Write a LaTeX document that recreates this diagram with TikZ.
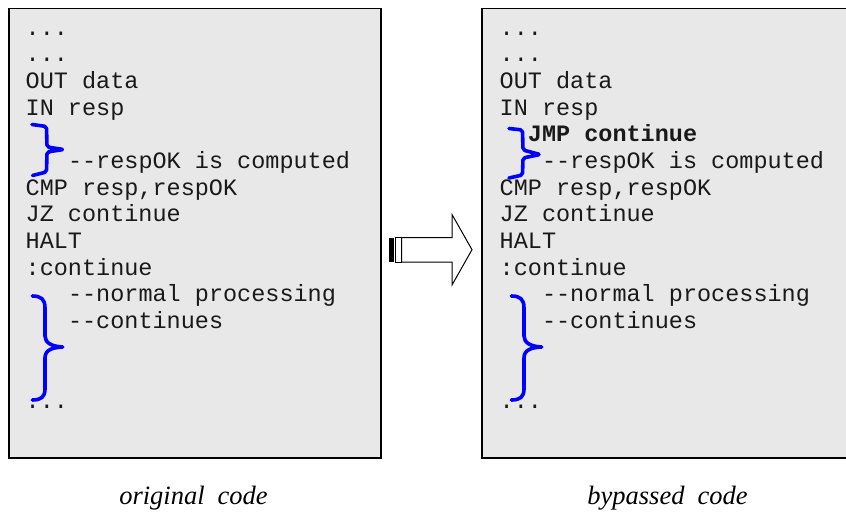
\documentclass[tikz,border=0pt]{standalone}
\usepackage{fontspec}
\setmainfont{Liberation Serif}
\setmonofont{Liberation Mono}
\definecolor{boxgray}{RGB}{232,232,232}
\definecolor{bracblue}{RGB}{0,0,255}
\begin{document}
\begin{tikzpicture}[x=1pt,y=-1pt,
  codebox/.style={draw=black,line width=1.4pt,fill=boxgray},
  code/.style={anchor=base west,inner sep=0pt,font=\fontsize{23.5}{26}\selectfont\ttfamily,text=black!90},
  capt/.style={anchor=base,inner sep=0pt,font=\fontsize{26.5}{30}\selectfont\itshape},
  brac/.style={draw=bracblue,line width=3.6pt,line cap=round,line join=round}]
\useasboundingbox (0,0) rectangle (846,514);
% boxes
\path[codebox] (9,8.7) rectangle (381,458);
\path[codebox] (482,8.7) rectangle (850,458);
% left code
\def\cw{14.1}
\foreach \nm/\col/\ln/\txt in {
  la/0/0/{...}, lb/0/1/{...}, lc/0/2/{OUT data}, ld/0/3/{IN resp},
  le/3/5/{--respOK is computed}, lf/0/6/{CMP resp,respOK}, lg/0/7/{JZ continue},
  lh/0/8/{HALT}, li/0/9/{:continue}, lj/3/10/{--normal processing},
  lk/3/11/{--continues}, ll/0/14/{...}}
  \node[code] (\nm) at ({25.5+\col*\cw},{35+\ln*26.67}) {\txt};
\foreach \nm/\col/\ln/\txt in {
  ra/0/0/{...}, rb/0/1/{...}, rc/0/2/{OUT data}, rd/0/3/{IN resp},
  re/3/5/{--respOK is computed}, rf/0/6/{CMP resp,respOK}, rg/0/7/{JZ continue},
  rh/0/8/{HALT}, ri/0/9/{:continue}, rj/3/10/{--normal processing},
  rk/3/11/{--continues}, rl/0/14/{...}}
  \node[code] (\nm) at ({499.5+\col*\cw},{35+\ln*26.67}) {\txt};
\node[code,font=\fontsize{23.5}{26}\selectfont\ttfamily\bfseries] (rjmp) at ({499.5+2*\cw},{35+4*26.67}) {JMP continue};
% braces left
\draw[brac,rounded corners=2pt] (32,124.5) -- (46.5,126.5) -- (47,147) -- (63.5,149.5) -- (47,152) -- (46.5,172) -- (32.5,175.5);
\draw[brac] (32.3,296) .. controls (41,296) and (45,299) .. (45,308) -- (45,336)
  .. controls (45,343) and (52,346.5) .. (62.7,347)
  .. controls (52,347.5) and (45,350) .. (45,358) -- (45,389)
  .. controls (45,397) and (41,400) .. (32.3,400);
% braces right
\draw[brac,rounded corners=2pt] (509,128.5) -- (522.5,130) -- (523,150) -- (540,154.5) -- (523,158) -- (522.5,175) -- (509,178);
\begin{scope}[xshift=479pt]
\draw[brac] (32.3,296) .. controls (41,296) and (45,299) .. (45,308) -- (45,336)
  .. controls (45,343) and (52,346.5) .. (62.7,347)
  .. controls (52,347.5) and (45,350) .. (45,358) -- (45,389)
  .. controls (45,397) and (41,400) .. (32.3,400);
\end{scope}
% striped arrow
\fill[black] (389,237.5) rectangle (393.5,262);
\draw[black,line width=1pt,fill=white] (395.5,237.5) rectangle (401.5,262);
\draw[black,line width=1pt,fill=white,line join=miter] (401.5,237.5) -- (452,237.5) -- (452,214.5) -- (472,249.7) -- (452,285) -- (452,262) -- (401.5,262) -- cycle;
% captions
\node[capt] (c1) at (193.5,504) {original\hspace{13pt}code};
\node[capt] (c2) at (667.5,504) {bypassed\hspace{13pt}code};
\end{tikzpicture}
\end{document}
